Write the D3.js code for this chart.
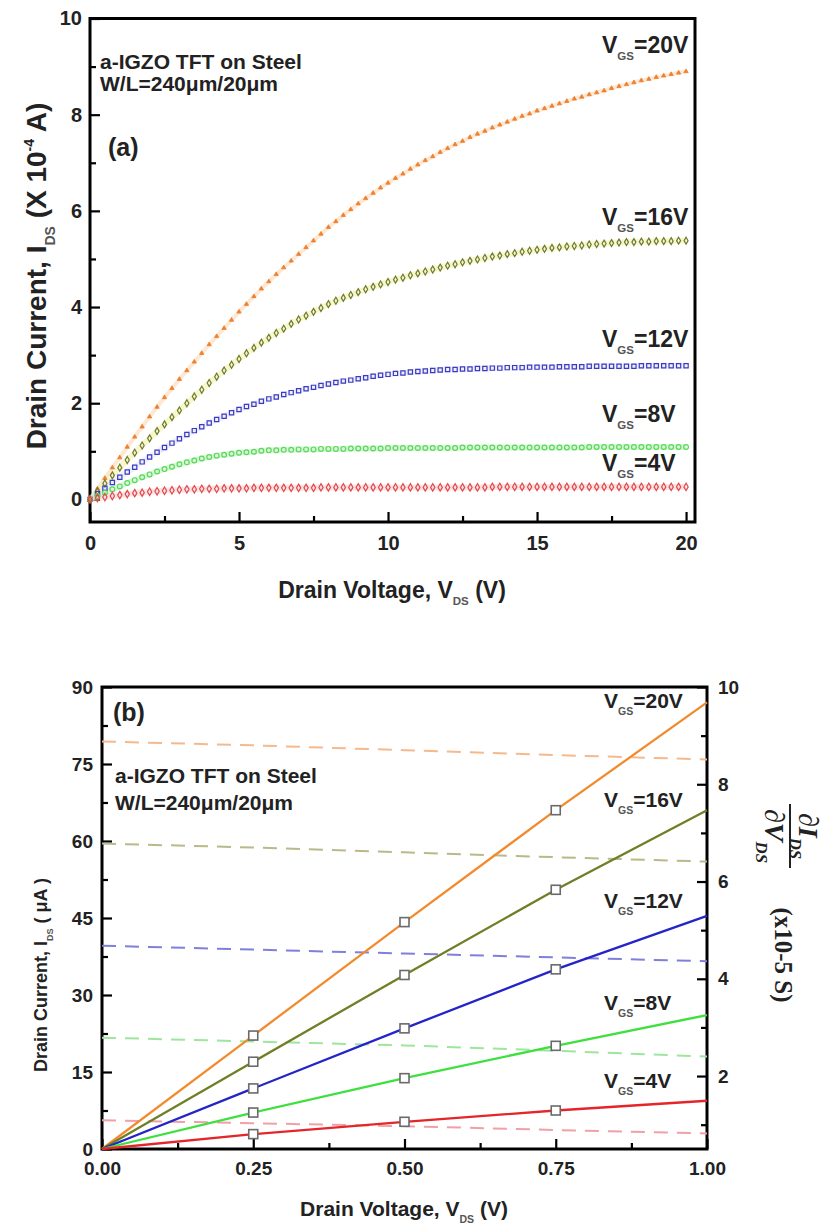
<!DOCTYPE html>
<html>
<head>
<meta charset="utf-8">
<title>a-IGZO TFT on Steel</title>
<script src="https://d3js.org/d3.v7.min.js"></script>
<style>
    body { margin: 0; background: #fff; }
    text { font-family: "Liberation Sans", Arial, sans-serif; font-weight: bold; fill: #222; }
    .tick line { stroke: #000; stroke-width: 2.2; }
</style>
</head>
<body>
<div id="chart"></div>
<script>
// ---------- (a) output curves, V_DS swept 0..20 V in 0.25 V steps (x 10^-4 A)
var vdsStep = 0.25;
var ids20 = [0, 0.22, 0.44, 0.66, 0.87,
    1.09, 1.30, 1.51, 1.72, 1.92, 2.12, 2.31, 2.50, 2.68, 2.86, 3.04, 3.22,
    3.39, 3.56, 3.73, 3.90, 4.06, 4.22, 4.38, 4.53, 4.68, 4.82, 4.96, 5.10,
    5.24, 5.38, 5.52, 5.66, 5.78, 5.91, 6.03, 6.15, 6.26, 6.37, 6.48, 6.58,
    6.68, 6.77, 6.87, 6.96, 7.05, 7.13, 7.22, 7.30, 7.38, 7.45, 7.53, 7.60,
    7.66, 7.73, 7.79, 7.85, 7.91, 7.97, 8.02, 8.08, 8.13, 8.18, 8.23, 8.28,
    8.33, 8.37, 8.42, 8.46, 8.50, 8.55, 8.59, 8.63, 8.67, 8.71, 8.74, 8.78,
    8.81, 8.84, 8.87, 8.90];
var ids16 = [0, 0.17, 0.33, 0.50, 0.66,
    0.82, 0.97, 1.12, 1.27, 1.42, 1.56, 1.71, 1.85, 2.00, 2.14, 2.28, 2.42,
    2.55, 2.68, 2.80, 2.92, 3.04, 3.15, 3.26, 3.36, 3.46, 3.55, 3.65, 3.74,
    3.82, 3.90, 3.98, 4.06, 4.13, 4.19, 4.25, 4.31, 4.37, 4.42, 4.47, 4.52,
    4.57, 4.61, 4.66, 4.70, 4.74, 4.78, 4.82, 4.86, 4.89, 4.93, 4.96, 4.99,
    5.02, 5.05, 5.07, 5.10, 5.12, 5.15, 5.17, 5.19, 5.21, 5.23, 5.24, 5.26,
    5.27, 5.28, 5.30, 5.31, 5.32, 5.33, 5.34, 5.35, 5.35, 5.36, 5.36, 5.37,
    5.37, 5.37, 5.38, 5.38];
var ids12 = [0, 0.12, 0.23, 0.35, 0.46,
    0.57, 0.67, 0.78, 0.88, 0.98, 1.08, 1.17, 1.26, 1.35, 1.43, 1.51, 1.59,
    1.66, 1.73, 1.80, 1.87, 1.93, 1.98, 2.04, 2.09, 2.13, 2.18, 2.22, 2.26,
    2.30, 2.33, 2.37, 2.40, 2.43, 2.46, 2.48, 2.51, 2.53, 2.56, 2.58, 2.60,
    2.62, 2.63, 2.65, 2.66, 2.67, 2.68, 2.69, 2.70, 2.70, 2.71, 2.71, 2.72,
    2.72, 2.73, 2.73, 2.74, 2.74, 2.74, 2.75, 2.75, 2.75, 2.75, 2.76, 2.76,
    2.76, 2.76, 2.77, 2.77, 2.77, 2.77, 2.77, 2.77, 2.77, 2.78, 2.78, 2.78,
    2.78, 2.78, 2.78, 2.78];
var ids8 = [0, 0.07, 0.14, 0.21, 0.27,
    0.34, 0.40, 0.46, 0.52, 0.58, 0.63, 0.68, 0.73, 0.77, 0.81, 0.85, 0.88,
    0.91, 0.93, 0.95, 0.97, 0.98, 0.99, 1.01, 1.02, 1.02, 1.03, 1.03, 1.04,
    1.04, 1.04, 1.05, 1.05, 1.05, 1.05, 1.06, 1.06, 1.06, 1.06, 1.06, 1.07,
    1.07, 1.07, 1.07, 1.07, 1.07, 1.07, 1.07, 1.07, 1.07, 1.08, 1.08, 1.08,
    1.08, 1.08, 1.08, 1.08, 1.08, 1.08, 1.08, 1.08, 1.08, 1.08, 1.08, 1.08,
    1.08, 1.08, 1.09, 1.09, 1.09, 1.09, 1.09, 1.09, 1.09, 1.09, 1.09, 1.09,
    1.09, 1.09, 1.09, 1.09];
var ids4 = [0, 0.03, 0.05, 0.07, 0.09,
    0.11, 0.13, 0.14, 0.16, 0.17, 0.18, 0.19, 0.20, 0.21, 0.21, 0.22, 0.22,
    0.22, 0.23, 0.23, 0.23, 0.23, 0.24, 0.24, 0.24, 0.24, 0.24, 0.24, 0.24,
    0.24, 0.24, 0.25, 0.25, 0.25, 0.25, 0.25, 0.25, 0.25, 0.25, 0.25, 0.25,
    0.25, 0.25, 0.25, 0.25, 0.25, 0.25, 0.25, 0.25, 0.25, 0.25, 0.25, 0.25,
    0.25, 0.26, 0.26, 0.26, 0.26, 0.26, 0.26, 0.26, 0.26, 0.26, 0.26, 0.26,
    0.26, 0.26, 0.26, 0.26, 0.26, 0.26, 0.26, 0.26, 0.26, 0.26, 0.26, 0.26,
    0.26, 0.26, 0.26, 0.26];

// ---------- (b) linear region, V_DS 0..1 V
var vdsLow = [0, 0.25, 0.5, 0.75, 1.0];
var lin20 = [0, 22.1, 44.2, 66.0, 87.0];   // uA
var lin16 = [0, 17.0, 33.9, 50.5, 66.0];
var lin12 = [0, 11.8, 23.5, 35.0, 45.4];
var lin8  = [0, 7.1, 13.8, 20.1, 26.1];
var lin4  = [0, 2.9, 5.3, 7.5, 9.4];
var gds20 = [8.88, 8.80, 8.70, 8.60, 8.51]; // dI/dV, x10^-5 S
var gds16 = [6.78, 6.70, 6.60, 6.50, 6.41];
var gds12 = [4.68, 4.60, 4.52, 4.44, 4.36];
var gds8  = [2.79, 2.71, 2.63, 2.52, 2.40];
var gds4  = [1.09, 1.03, 0.97, 0.89, 0.82];
var squareVds = [0.25, 0.5, 0.75];

var gateNames = ['20V', '16V', '12V', '8V', '4V'];

var svg = d3.select('#chart').append('svg')
    .attr('width', 824).attr('height', 1229)
    .style('background', '#fff');

// text with sub / superscripts
function rich(sel, parts, size) {
    var shift = 0;
    parts.forEach(function (p) {
        var target = p.sub ? size * 0.32 : (p.sup ? -size * 0.42 : 0);
        sel.append('tspan')
            .attr('dy', target - shift)
            .attr('font-size', (p.sub || p.sup) ? size * (p.k || 0.5) : size)
            .style('fill', p.sub ? p.subColor || '#555' : null)
            .text(p.t);
        shift = target;
    });
    return sel;
}

function vgsLabel(g, x, y, name, size) {
    var t = g.append('text').attr('x', x).attr('y', y).attr('font-size', size);
    rich(t, [{t: 'V'}, {t: 'GS', sub: true, k: 0.5}, {t: '=' + name}], size);
}

function axisStyle(g) {
    g.select('.domain').remove();
    g.selectAll('.tick line').attr('stroke', '#000').attr('stroke-width', 2.2);
}

// ================= panel (a) =================
var xa = d3.scaleLinear().domain([0, 20.3]).range([90, 695]);
var ya = d3.scaleLinear().domain([-0.47, 10]).range([522, 18.5]);
var ga = svg.append('g');

ga.append('g').attr('transform', 'translate(0,522)')
    .call(d3.axisBottom(xa).tickValues([2.5, 7.5, 12.5, 17.5]).tickSize(-6).tickFormat(''))
    .call(axisStyle);
ga.append('g').attr('transform', 'translate(0,522)')
    .call(d3.axisBottom(xa).tickValues([0, 5, 10, 15, 20]).tickSize(-10).tickPadding(14))
    .call(axisStyle)
    .selectAll('text').attr('font-size', 20).attr('fill', '#222');
ga.append('g').attr('transform', 'translate(90,0)')
    .call(d3.axisLeft(ya).tickValues([1, 3, 5, 7, 9]).tickSize(-6).tickFormat(''))
    .call(axisStyle);
ga.append('g').attr('transform', 'translate(90,0)')
    .call(d3.axisLeft(ya).tickValues([0, 2, 4, 6, 8, 10]).tickSize(-10).tickPadding(8))
    .call(axisStyle)
    .selectAll('text').attr('font-size', 20).attr('fill', '#222');

ga.append('rect').attr('x', 90).attr('y', 18.5).attr('width', 605).attr('height', 503.5)
    .attr('fill', 'none').attr('stroke', '#000').attr('stroke-width', 3);

var seriesA = [
    {v: ids20, color: '#ee8030', halo: '#fcd2a8', haloW: 4, symbol: d3.symbolTriangle, size: 8, fill: true},
    {v: ids16, color: '#6f7a2c', halo: '#eef0a0', haloW: 6, symbol: d3.symbolDiamond, size: 14, fill: false},
    {v: ids12, color: '#3a3ac4', halo: '#e2e2f8', haloW: 6, symbol: d3.symbolSquare, size: 18, fill: false},
    {v: ids8, color: '#5ad85a', halo: '#b4f2b4', haloW: 6, symbol: d3.symbolCircle, size: 18, fill: false},
    {v: ids4, color: '#e24a4e', halo: '#f9c8c8', haloW: 6, symbol: d3.symbolDiamond, size: 16, fill: false}
];
var lineA = d3.line().x(function (d, i) { return xa(i * vdsStep); }).y(function (d) { return ya(d); });

seriesA.forEach(function (s) {
    ga.append('path').datum(s.v).attr('d', lineA)
        .attr('fill', 'none').attr('stroke', s.halo).attr('stroke-width', s.haloW)
        .attr('stroke-opacity', 0.5);
});
seriesA.forEach(function (s) {
    ga.append('g').selectAll('path').data(s.v).enter().append('path')
        .attr('transform', function (d, i) { return 'translate(' + xa(i * vdsStep) + ',' + ya(d) + ')'; })
        .attr('d', d3.symbol().type(s.symbol).size(s.size))
        .attr('fill', s.fill ? s.color : 'none')
        .attr('stroke', s.color).attr('stroke-width', s.fill ? 0.8 : 1.2);
});

var labelYA = [53, 225, 347, 422, 471];
gateNames.forEach(function (n, i) { vgsLabel(ga, 602, labelYA[i], n, 23); });

ga.append('text').attr('x', 100).attr('y', 69).attr('font-size', 21).text('a-IGZO TFT on Steel');
ga.append('text').attr('x', 100).attr('y', 91).attr('font-size', 21).text('W/L=240\u03bcm/20\u03bcm');
ga.append('text').attr('x', 108).attr('y', 156).attr('font-size', 25).text('(a)');

rich(ga.append('text').attr('x', 392).attr('y', 598).attr('text-anchor', 'middle').attr('font-size', 23),
    [{t: 'Drain Voltage, V'}, {t: 'DS', sub: true, k: 0.5}, {t: ' (V)'}], 23);
rich(ga.append('text').attr('transform', 'translate(46,276) rotate(-90)').attr('text-anchor', 'middle').attr('font-size', 28),
    [{t: 'Drain Current, I'}, {t: 'DS', sub: true, k: 0.5}, {t: ' (X 10'}, {t: '-4', sup: true, k: 0.5}, {t: ' A)'}], 28);

// ================= panel (b) =================
var xb = d3.scaleLinear().domain([0, 1]).range([102, 707]);
var yb = d3.scaleLinear().domain([0, 90]).range([1149, 687]);
var yr = d3.scaleLinear().domain([0.5, 10]).range([1149, 687]);
var gb = svg.append('g');

gb.append('g').attr('transform', 'translate(0,1149)')
    .call(d3.axisBottom(xb).tickValues([0.125, 0.375, 0.625, 0.875]).tickSize(-6).tickFormat(''))
    .call(axisStyle);
gb.append('g').attr('transform', 'translate(0,1149)')
    .call(d3.axisBottom(xb).tickValues([0, 0.25, 0.5, 0.75, 1]).tickSize(-10).tickPadding(13).tickFormat(d3.format('.2f')))
    .call(axisStyle)
    .selectAll('text').attr('font-size', 19).attr('fill', '#222');
gb.append('g').attr('transform', 'translate(102,0)')
    .call(d3.axisLeft(yb).tickValues([7.5, 22.5, 37.5, 52.5, 67.5, 82.5]).tickSize(-6).tickFormat(''))
    .call(axisStyle);
gb.append('g').attr('transform', 'translate(102,0)')
    .call(d3.axisLeft(yb).tickValues([0, 15, 30, 45, 60, 75, 90]).tickSize(-10).tickPadding(9))
    .call(axisStyle)
    .selectAll('text').attr('font-size', 19).attr('fill', '#222');
gb.append('g').attr('transform', 'translate(707,0)')
    .call(d3.axisRight(yr).tickValues([1, 3, 5, 7, 9]).tickSize(-6).tickFormat(''))
    .call(axisStyle);
gb.append('g').attr('transform', 'translate(707,0)')
    .call(d3.axisRight(yr).tickValues([2, 4, 6, 8, 10]).tickSize(-10).tickPadding(11))
    .call(axisStyle)
    .selectAll('text').attr('font-size', 19).attr('fill', '#222');

gb.append('rect').attr('x', 102).attr('y', 687).attr('width', 605).attr('height', 462)
    .attr('fill', 'none').attr('stroke', '#000').attr('stroke-width', 3);

var seriesB = [
    {lin: lin20, gds: gds20, color: '#f28a2e', dash: '#f6b98c'},
    {lin: lin16, gds: gds16, color: '#6e7f25', dash: '#b9b98a'},
    {lin: lin12, gds: gds12, color: '#2424c8', dash: '#7f7fdc'},
    {lin: lin8, gds: gds8, color: '#3ee03e', dash: '#9ee59e'},
    {lin: lin4, gds: gds4, color: '#e4262a', dash: '#f0a0a6'}
];
var lineLin = d3.line().x(function (d, i) { return xb(vdsLow[i]); }).y(function (d) { return yb(d); });
var lineGds = d3.line().x(function (d, i) { return xb(vdsLow[i]); }).y(function (d) { return yr(d); });

seriesB.forEach(function (s) {
    gb.append('path').datum(s.gds).attr('d', lineGds)
        .attr('fill', 'none').attr('stroke', s.dash).attr('stroke-width', 2)
        .attr('stroke-dasharray', '14,9');
});
seriesB.forEach(function (s) {
    gb.append('path').datum(s.lin).attr('d', lineLin)
        .attr('fill', 'none').attr('stroke', s.color).attr('stroke-width', 2.3);
});
seriesB.forEach(function (s) {
    gb.append('g').selectAll('rect').data(squareVds).enter().append('rect')
        .attr('x', function (d) { return xb(d) - 4.5; })
        .attr('y', function (d) { return yb(s.lin[vdsLow.indexOf(d)]) - 4.5; })
        .attr('width', 9).attr('height', 9)
        .attr('fill', '#fff').attr('stroke', '#6a6a6a').attr('stroke-width', 1.6);
});

var labelYB = [708, 807, 908, 1010, 1088];
gateNames.forEach(function (n, i) { vgsLabel(gb, 604, labelYB[i], n, 21); });

gb.append('text').attr('x', 113).attr('y', 721).attr('font-size', 25).text('(b)');
gb.append('text').attr('x', 115).attr('y', 783).attr('font-size', 21).text('a-IGZO TFT on Steel');
gb.append('text').attr('x', 115).attr('y', 810).attr('font-size', 21).text('W/L=240\u03bcm/20\u03bcm');

rich(gb.append('text').attr('x', 404).attr('y', 1216).attr('text-anchor', 'middle').attr('font-size', 21),
    [{t: 'Drain Voltage, V'}, {t: 'DS', sub: true, k: 0.5}, {t: ' (V)'}], 21);
rich(gb.append('text').attr('transform', 'translate(47,975) rotate(-90)').attr('text-anchor', 'middle').attr('font-size', 18),
    [{t: 'Drain Current, I'}, {t: 'DS', sub: true, k: 0.5}, {t: ' ( \u03bcA )'}], 18);

// right axis title: dI_DS / dV_DS  (x10-5 S), rotated
var serif = '"Liberation Serif", "DejaVu Serif", serif';
var frac = gb.append('g').attr('transform', 'translate(790,836) rotate(90)');
rich(frac.append('text').attr('x', 0).attr('y', -9).attr('text-anchor', 'middle')
        .style('font-family', serif).style('font-style', 'italic').style('font-weight', 'bold').attr('font-size', 28),
    [{t: '\u2202I'}, {t: 'DS', sub: true, k: 0.6, subColor: '#222'}], 28);
frac.append('line').attr('x1', -32).attr('x2', 32).attr('y1', 0).attr('y2', 0)
    .attr('stroke', '#222').attr('stroke-width', 2);
rich(frac.append('text').attr('x', 0).attr('y', 25).attr('text-anchor', 'middle')
        .style('font-family', serif).style('font-style', 'italic').style('font-weight', 'bold').attr('font-size', 28),
    [{t: '\u2202V'}, {t: 'DS', sub: true, k: 0.6, subColor: '#222'}], 28);
gb.append('text').attr('transform', 'translate(775,955) rotate(90)').attr('text-anchor', 'middle')
    .style('font-family', serif).style('font-weight', 'bold').attr('font-size', 25).text('(x10-5 S)');
</script>
</body>
</html>
